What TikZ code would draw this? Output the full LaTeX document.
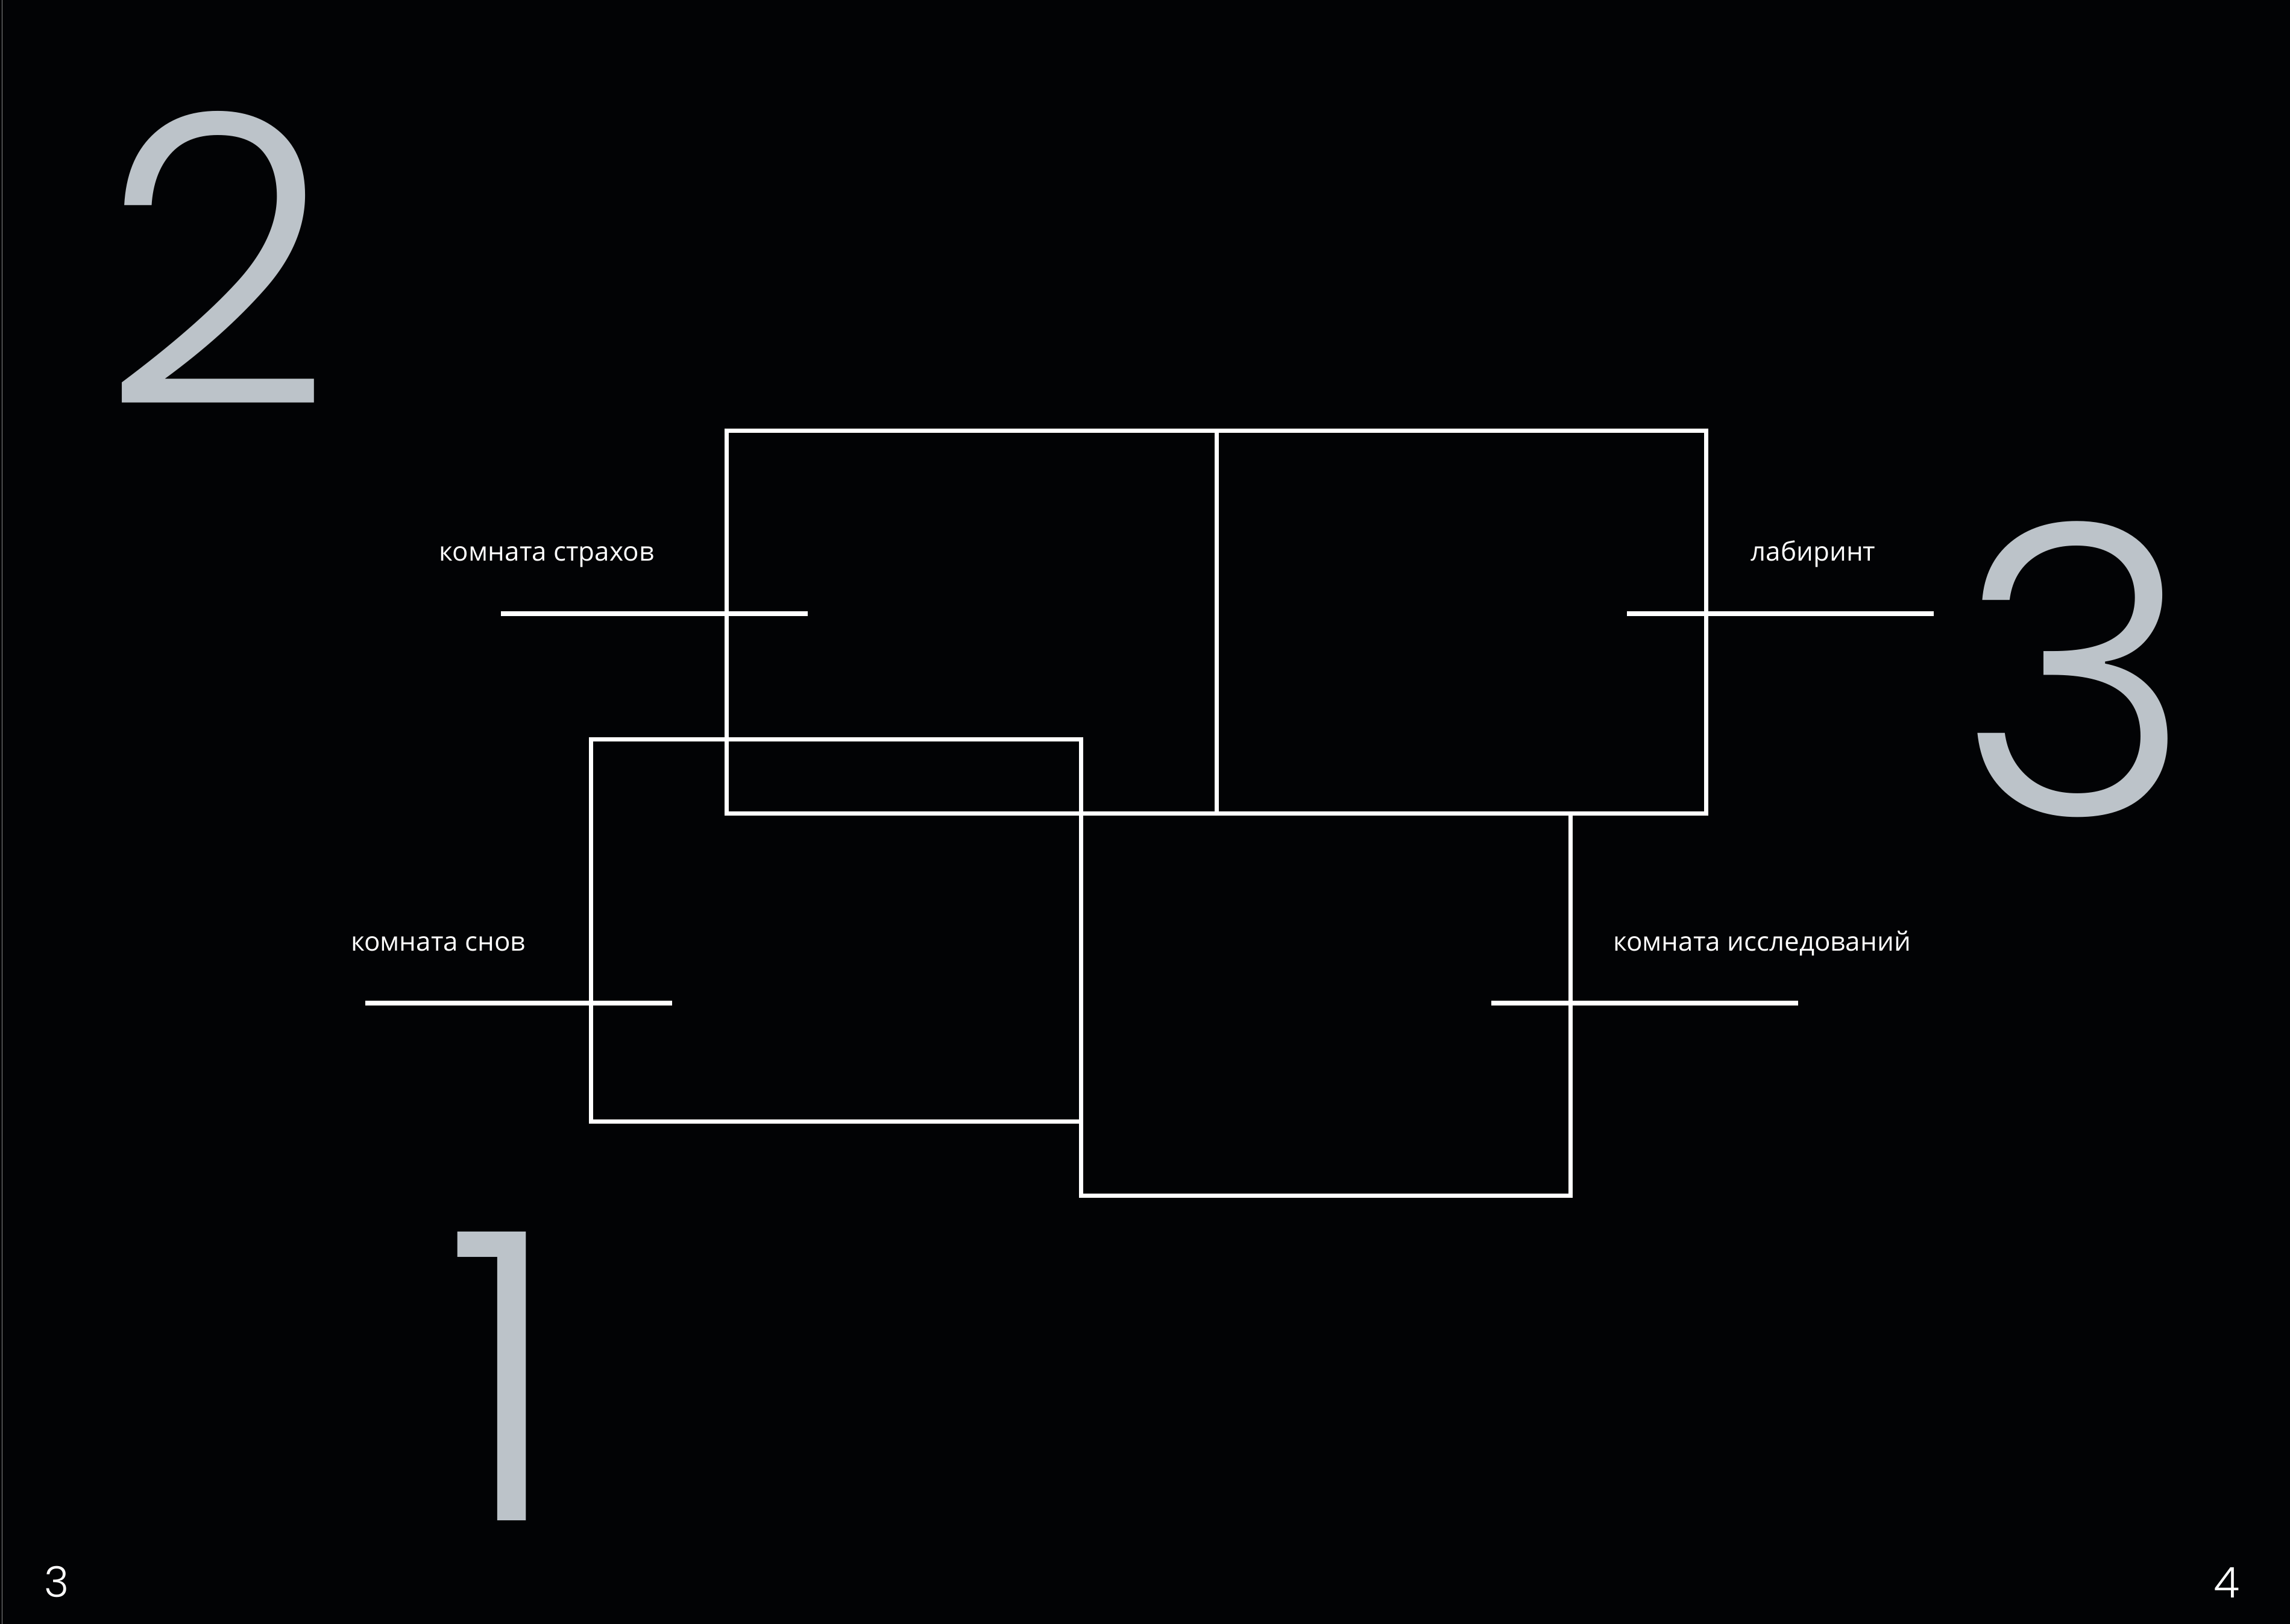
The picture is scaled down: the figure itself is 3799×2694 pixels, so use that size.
\documentclass[tikz,border=0pt]{standalone}
\usepackage{fontspec}
\setmainfont{Open Sans}
\IfFontExistsTF{Poppins Light}{\newfontfamily\numfont{Poppins Light}}{\newfontfamily\numfont{Poppins}}
\usetikzlibrary{positioning, calc}
\definecolor{pagebg}{RGB}{2, 3, 5}
\definecolor{numgrey}{RGB}{188, 195, 201}
\definecolor{edgegrey}{RGB}{140, 140, 140}

\begin{document}
\begin{tikzpicture}[x=0.01cm, y=-0.01cm,
  room/.style={draw=white, line width=2pt, minimum width=8.12cm, minimum height=6.34cm, inner sep=0pt, outer sep=0pt},
  stub/.style={draw=white, line width=2pt},
  roomlabel/.style={text=white, font=\fontsize{12.5}{15}\selectfont, anchor=base, inner sep=0pt},
  bignum/.style={text=numgrey, font=\numfont\fontsize{190}{190}\selectfont, anchor=base, inner sep=0pt},
  pagenum/.style={text=white, font=\numfont\fontsize{20}{20}\selectfont, anchor=base, inner sep=0pt}]
  % Page
  \fill[pagebg] (0,0) rectangle (3799,2694);
  \useasboundingbox (0,0) rectangle (3799,2694);
  \draw[edgegrey, line width=0.4pt] (3.5,0) -- (3.5,2694);

  % Rooms
  \node[room] (fear) at (1612, 1032) {};
  \node[room, right=0pt of fear] (maze) {};
  \node[room] (dream) at (1387, 1543.5) {};
  \node[room, anchor=north west] (study) at (dream.east |- fear.south) {};

  % Stubs
  \coordinate (fearA) at (831, 1018);  \coordinate (fearB) at (1340, 1018);
  \coordinate (mazeA) at (2699, 1018); \coordinate (mazeB) at (3208, 1018);
  \coordinate (dreamA) at (606, 1664); \coordinate (dreamB) at (1115, 1664);
  \coordinate (studyA) at (2474, 1664); \coordinate (studyB) at (2983, 1664);
  \draw[stub] (fearA) -- (fearB);
  \draw[stub] (mazeA) -- (mazeB);
  \draw[stub] (dreamA) -- (dreamB);
  \draw[stub] (studyA) -- (studyB);

  % Labels
  \node[roomlabel] (fearlbl) at (907, 930) {комната страхов};
  \node[roomlabel] (mazelbl) at (3008, 930) {лабиринт};
  \node[roomlabel] (dreamlbl) at (727, 1577) {комната снов};
  \node[roomlabel] (studylbl) at (2923, 1577) {комната исследований};

  % Numbers
  \node[bignum] (two) at (360, 671) {2};
  \node[bignum] (three) at (3443, 1352) {3};
  \node[bignum] (one) at (836, 2522) {1};
  \node[pagenum] (pageL) at (94, 2649) {3};
  \node[pagenum] (pageR) at (3694, 2650) {4};
\end{tikzpicture}
\end{document}
